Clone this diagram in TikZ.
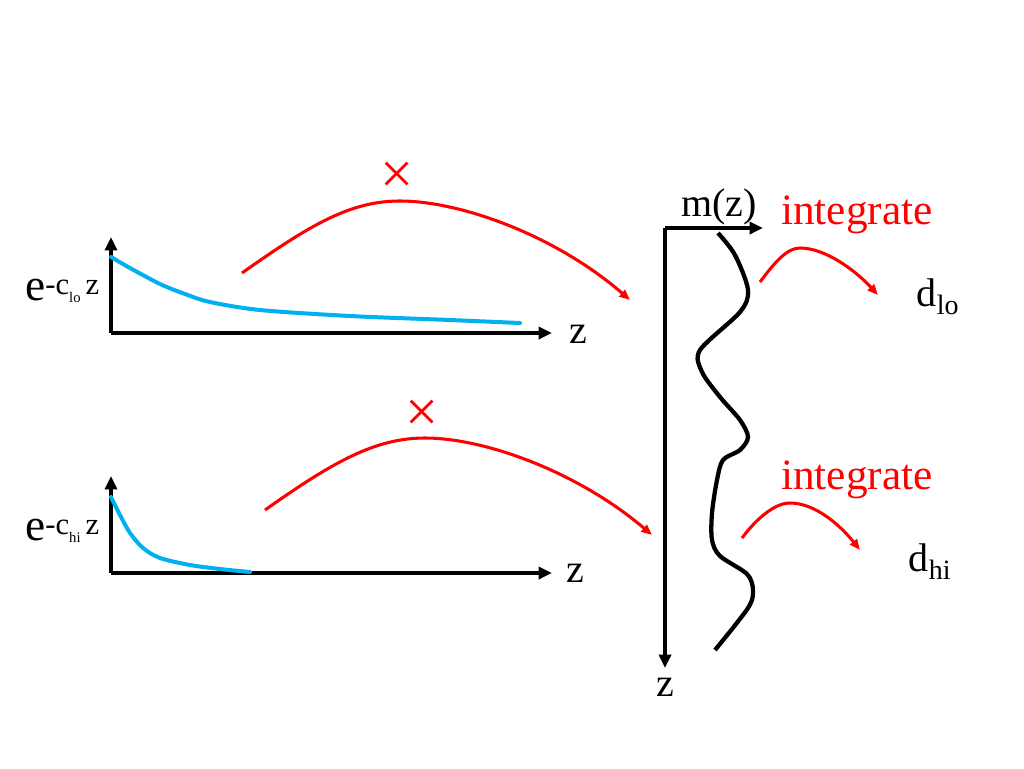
\documentclass[tikz,border=0pt]{standalone}
\usepackage{fontspec}
\setmainfont{Liberation Serif}
\usetikzlibrary{arrows.meta,positioning,calc}
\definecolor{curveblue}{RGB}{0,176,240}
\definecolor{arcred}{RGB}{255,0,0}
\tikzset{
  axis/.style={line width=3pt,-{Triangle[length=10pt,width=9pt]}},
  decay/.style={curveblue,line width=3pt,line cap=round},
  maparc/.style={arcred,line width=2.3pt,-{Triangle[length=8pt,width=6.5pt]}},
  wave/.style={black,line width=3.2pt},
  lbl/.style={font=\fontsize{30}{34}\selectfont},
  redlbl/.style={text=arcred,font=\fontsize{32.5}{36}\selectfont},
  times/.style={text=arcred,font=\fontsize{44}{46}\selectfont,inner sep=0pt}
}
% e^{-c_{#1} z} the way the slide sets it
\newcommand \expolabel[1]
{{\fontsize{34}{34}\selectfont e}{\fontsize{23}{23}\selectfont\raisebox{4pt}{-c}}{\fontsize{11}{11}\selectfont\raisebox{-2pt}{#1}}{\fontsize{23}{23}\selectfont\raisebox{4pt}{\,z}}}

\begin{document}
\begin{tikzpicture}[x=0.75pt,y=-0.75pt,line join=round]
\useasboundingbox (0,0) rectangle (1024,768);
% top: low decay
\coordinate (A0) at (111,333);
\coordinate (Ay) at (111,237);
\coordinate (Ax) at (552,333);
\draw[axis] (A0)--(Ay);
\draw[axis] (A0)--(Ax);
\draw[decay] plot[smooth] coordinates {(111,257) (130,268) (160,284) (185,294) (210,302) (260,310) (350,316) (450,320) (520,323)};
\node[lbl,anchor=base west,inner sep=0pt] (elo) at (25,300) {\expolabel{lo}};
\node[lbl] (zA) at (578,334) {z};
% bottom: high decay
\coordinate (B0) at (111,573);
\coordinate (By) at (111,476);
\coordinate (Bx) at (552,573);
\draw[axis] (B0)--(By);
\draw[axis] (B0)--(Bx);
\draw[decay] plot[smooth] coordinates {(111,497) (120,515) (130,533) (143,548) (160,558) (190,565) (220,569) (250,572)};
\node[lbl,anchor=base west,inner sep=0pt] (ehi) at (25,540) {\expolabel{hi}};
\node[lbl] (zB) at (575,573) {z};
% model m(z)
\coordinate (M0) at (665,228);
\coordinate (Mx) at (763,228);
\coordinate (Mz) at (665,668);
\draw[axis] (M0)--(Mx);
\draw[axis] (M0)--(Mz);
\node[lbl] (mz) at (719,207) {m(z)};
\node[lbl] (zM) at (665,687) {z};
\draw[wave] plot[smooth] coordinates {(718,233) (735,255) (748,290) (740,312) (700,350) (702,372) (720,397) (740,420) (748,437) (740,450) (723,460) (717,480) (712,513) (712,540) (720,556) (747,574) (753,590) (748,608) (715,650)};
% products: times
\coordinate (P1s) at (242,273);
\coordinate (P1t) at (400,201);
\coordinate (P1e) at (630,300);
\draw[maparc] (P1s) .. controls (310,225) and (350,201) .. (P1t) .. controls (460,201) and (555,235) .. (P1e);
\node[times] (x1) at (397,178) {×};
\coordinate (P2s) at (265,510);
\coordinate (P2t) at (425,438);
\coordinate (P2e) at (652,535);
\draw[maparc] (P2s) .. controls (333,462) and (375,438) .. (P2t) .. controls (485,438) and (578,472) .. (P2e);
\node[times] (x2) at (422,416) {×};
% integrate to data
\coordinate (I1s) at (760,282);
\coordinate (I1e) at (878,295);
\draw[maparc] (I1s) .. controls (775,262) and (787,248) .. (800,248) .. controls (825,248) and (855,270) .. (I1e);
\node[redlbl] (int1) at (857,215) {integrate};
\node[lbl] (dlo) at (938,297) {d\textsubscript{lo}};
\coordinate (I2s) at (742,538);
\coordinate (I2e) at (860,550);
\draw[maparc] (I2s) .. controls (757,518) and (775,503) .. (790,503) .. controls (815,503) and (840,525) .. (I2e);
\node[redlbl] (int2) at (857,480) {integrate};
\node[lbl] (dhi) at (930,562) {d\textsubscript{hi}};
\end{tikzpicture}
\end{document}
